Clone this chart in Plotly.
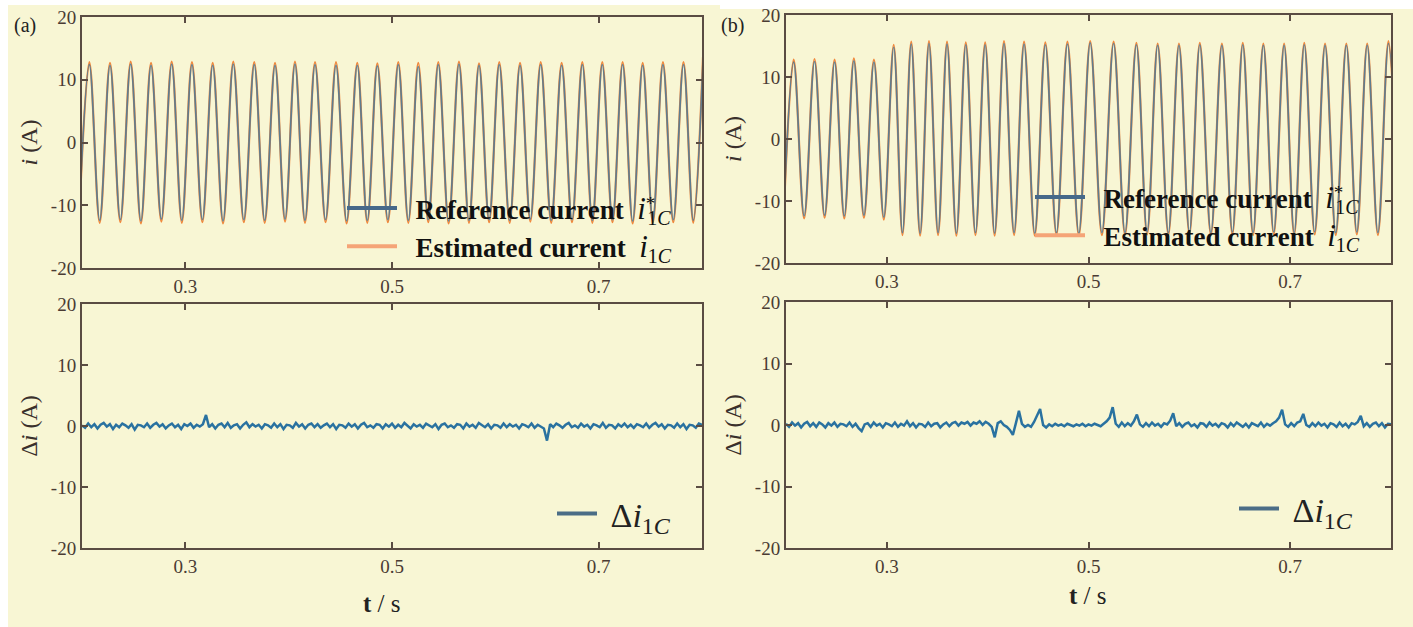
import numpy as np
import plotly.graph_objects as go

W, H = 1413, 627
SERIF = "Liberation Serif"
BG = "#F8F6D4"
AX = "#5a4c43"
TICK = "#4a3b33"

# ---------------- data ----------------
x_ticks = [0.3, 0.5, 0.7]
x_tick_text = ["0.3", "0.5", "0.7"]
y_ticks = [-20, -10, 0, 10, 20]
y_tick_text = ["-20", "-10", "0", "10", "20"]

# (a) phase current: times (s) of positive peaks and negative troughs
a_peak_t = [0.2071, 0.2271, 0.2471, 0.2668, 0.2868, 0.3064, 0.3265, 0.3464, 0.3667, 0.3868,
            0.4061, 0.4255, 0.4458, 0.4664, 0.4858, 0.5061, 0.5254, 0.5448, 0.5648, 0.5842,
            0.6038, 0.6239, 0.6439, 0.6642, 0.6842, 0.7035, 0.7232, 0.7426, 0.7622, 0.7821, 0.8010]
a_trough_t = [0.1971, 0.2171, 0.2371, 0.2570, 0.2768, 0.2966, 0.3165, 0.3365, 0.3566, 0.3768,
              0.3965, 0.4158, 0.4357, 0.4561, 0.4761, 0.4960, 0.5158, 0.5351, 0.5548, 0.5745,
              0.5940, 0.6139, 0.6339, 0.6541, 0.6742, 0.6939, 0.7134, 0.7329, 0.7524, 0.7722, 0.7916]
a_est_peak = [12.8, 12.7, 12.9, 12.7, 12.9, 12.8, 12.7, 12.9, 12.8, 12.7, 12.9, 12.8, 12.8, 12.7, 12.6, 12.8,
              12.7, 12.8, 12.9, 12.6, 12.8, 12.7, 12.8, 12.7, 12.8, 12.8, 12.8, 12.7, 12.8, 12.8, 13.6]
a_ref_peak = [12.4, 12.3, 12.5, 12.3, 12.5, 12.4, 12.3, 12.5, 12.4, 12.3, 12.5, 12.4, 12.3, 12.3, 12.2, 12.4,
              12.1, 12.4, 12.5, 12.3, 12.4, 12.3, 12.4, 12.3, 12.4, 12.4, 12.4, 12.3, 12.4, 12.4, 13.2]
a_est_trough = [-12.7, -12.8, -12.7, -12.9, -12.6, -12.8, -12.7, -12.9, -12.7, -12.8, -12.6, -12.8, -12.7,
                -12.9, -12.8, -12.7, -12.8, -12.7, -12.9, -12.8, -12.7, -12.8, -12.6, -12.8, -12.7, -12.8,
                -12.7, -12.9, -12.8, -12.7, -12.8]
a_ref_trough = [-12.3, -12.4, -12.3, -12.5, -12.2, -12.4, -12.3, -12.5, -12.3, -12.4, -12.2, -12.4, -12.3,
                -12.5, -12.4, -12.3, -12.4, -12.3, -12.5, -12.4, -12.3, -12.4, -12.2, -12.4, -12.3, -12.4,
                -12.3, -12.5, -12.4, -12.3, -12.4]

# (b) phase current (load step near 0.3 s)
b_peak_t = [0.2076, 0.2283, 0.2482, 0.2673, 0.2872, 0.3068, 0.3242, 0.3418, 0.3597, 0.3783,
            0.3975, 0.4162, 0.4361, 0.4572, 0.4791, 0.5017, 0.5249, 0.5475, 0.5686, 0.5897,
            0.6104, 0.6323, 0.6530, 0.6734, 0.6940, 0.7140, 0.7346, 0.7557, 0.7764, 0.7975]
b_trough_t = [0.1976, 0.2180, 0.2383, 0.2578, 0.2773, 0.2970, 0.3155, 0.3330, 0.3508, 0.3690,
              0.3879, 0.4069, 0.4262, 0.4467, 0.4682, 0.4904, 0.5133, 0.5362, 0.5581, 0.5792,
              0.6001, 0.6214, 0.6427, 0.6632, 0.6837, 0.7040, 0.7243, 0.7452, 0.7661, 0.7870, 0.8080]
b_est_peak = [12.8, 12.9, 12.8, 13.0, 12.8, 15.2, 15.7, 15.8, 15.7, 15.6, 15.6, 15.8, 15.7, 15.6, 15.7,
              15.8, 15.7, 15.5, 15.4, 15.4, 15.5, 15.4, 15.5, 15.4, 15.4, 15.5, 15.4, 15.4, 15.4, 15.8]
b_ref_peak = [12.4, 12.5, 12.4, 12.6, 12.4, 14.8, 15.3, 15.4, 15.3, 15.2, 15.2, 15.4, 15.3, 15.2, 15.3,
              15.5, 15.4, 15.2, 15.1, 15.1, 15.2, 15.1, 15.2, 15.1, 15.1, 15.2, 15.1, 15.1, 15.1, 15.4]
b_est_trough = [-12.7, -12.8, -12.7, -12.8, -12.7, -13.0, -15.5, -15.6, -15.5, -15.6, -15.5, -15.6, -15.5,
                -15.6, -15.5, -15.6, -15.5, -15.5, -15.4, -15.5, -15.4, -15.5, -15.4, -15.5, -15.4, -15.5,
                -15.4, -15.5, -15.4, -15.5, -15.4]
b_ref_trough = [-12.3, -12.4, -12.3, -12.4, -12.3, -12.6, -15.1, -15.2, -15.1, -15.2, -15.1, -15.2, -15.1,
                -15.2, -15.1, -15.2, -15.1, -15.1, -15.0, -15.1, -15.0, -15.1, -15.0, -15.1, -15.0, -15.1,
                -15.0, -15.1, -15.0, -15.1, -15.0]

# estimation error, sampled every 3 ms from 0.2 s to 0.8 s
a_delta = [0.1, -0.3, 0.4, -0.2, 0.3, -0.4, 0.2, 0.5, -0.1, 0.3, -0.5, 0.2, -0.2, 0.4, 0.1, -0.3, 0.3, -0.6, 0.2, 0.1,
           -0.2, 0.4, -0.3, 0.2, 0.5, -0.1, 0.3, -0.4, 0.1, 0.4, -0.2, 0.2, -0.5, 0.3, 0.0, 0.4, -0.3, 0.2, -0.1, 0.3,
           1.8, -0.2, 0.3, -0.4, 0.2, 0.4, -0.2, 0.5, -0.3, 0.1, 0.3, -0.4, 0.2, 0.6, -0.2, 0.3, -0.1, 0.2, -0.4, 0.3,
           0.1, -0.3, 0.4, -0.2, 0.3, -0.5, 0.2, 0.1, -0.3, 0.5, -0.1, 0.3, -0.4, 0.2, 0.4, -0.2, 0.3, -0.3, 0.1, 0.4,
           -0.2, 0.3, -0.5, 0.2, 0.1, -0.3, 0.4, -0.1, 0.3, -0.4, 0.2, 0.5, -0.2, 0.1, -0.3, 0.3, 0.2, -0.4, 0.3, -0.1,
           0.4, -0.3, 0.2, -0.2, 0.5, 0.1, -0.4, 0.3, -0.1, 0.2, -0.3, 0.4, 0.1, -0.2, 0.3, -0.5, 0.2, 0.4, -0.2, 0.1,
           -0.3, 0.3, 0.2, -0.4, 0.4, -0.1, 0.2, -0.3, 0.5, 0.1, -0.2, 0.3, -0.4, 0.2, 0.1, -0.3, 0.4, -0.2, 0.3, -0.1,
           0.2, -0.4, 0.3, 0.1, -0.2, 0.4, -0.3, 0.2, -0.1, -0.4, -2.4, 0.3, -0.2, 0.4, 0.1, -0.3, 0.2, 0.5, -0.2, 0.1,
           -0.3, 0.4, -0.1, 0.2, -0.4, 0.3, 0.1, -0.2, 0.5, -0.3, 0.2, 0.1, -0.4, 0.3, -0.1, 0.4, -0.2, 0.2, -0.3, 0.3,
           0.1, -0.2, 0.4, -0.3, 0.2, 0.5, -0.1, 0.3, -0.4, 0.2, 0.1, -0.3, 0.4, -0.2, 0.3, -0.5, 0.2, 0.1, -0.3, 0.4, 0.2]
b_delta = [0.2, -0.3, 0.4, -0.1, 0.3, -0.4, 0.2, 0.5, -0.2, 0.3, -0.3, 0.4, 0.1, -0.4, 0.3, -0.1, 0.4, -0.3, 0.2, 0.1,
           -0.2, 0.4, -0.3, 0.2, -0.5, -1.0, 0.1, 0.3, -0.3, 0.4, -0.1, 0.2, -0.4, 0.3, 0.1, -0.2, 0.4, -0.3, 0.2, -0.1,
           0.6, -0.2, 0.3, -0.4, 0.2, 0.1, -0.3, 0.4, -0.2, 0.2, 0.3, -0.4, 0.1, 0.4, -0.2, 0.3, 0.5, -0.1, 0.4, 0.2,
           0.5, -0.1, 0.4, 0.2, 0.6, 0.0, 0.5, 0.2, -0.3, -2.0, 0.3, 0.6, 0.0, -0.3, -0.8, -1.6, 0.3, 2.3, 0.2, -0.3,
           0.0, -0.3, 0.5, 1.5, 2.6, 0.0, -0.4, 0.1, -0.2, 0.2, -0.1, 0.1, -0.2, 0.2, 0.0, -0.2, 0.1, -0.1, 0.2, -0.2,
           0.1, -0.1, 0.2, 0.0, -0.2, 0.2, 0.6, 1.2, 2.9, 0.2, -0.3, 0.4, -0.2, 0.3, -0.1, 0.6, 1.7, 0.1, -0.3, 0.3,
           -0.2, 0.4, -0.1, 0.2, -0.3, 0.3, 0.1, 0.7, 1.9, -0.2, 0.3, -0.3, 0.2, 0.4, -0.2, 0.1, -0.4, 0.3, 0.2, -0.3,
           0.4, -0.1, 0.2, -0.3, 0.3, 0.1, -0.4, 0.3, -0.2, 0.4, 0.0, -0.3, 0.2, -0.4, 0.3, 0.1, -0.2, 0.4, -0.3, 0.2,
           -0.1, 0.3, 0.6, 1.2, 2.5, 0.1, -0.3, 0.3, -0.2, 0.4, 0.6, 1.8, 0.0, -0.3, 0.3, -0.2, 0.4, -0.1, 0.2, -0.4,
           0.3, 0.1, -0.3, 0.4, -0.2, 0.2, -0.4, 0.3, 0.1, 0.5, 1.5, -0.2, 0.3, -0.3, 0.2, 0.4, -0.2, 0.3, -0.4, 0.2, 0.1]
t_delta = np.round(np.linspace(0.2, 0.8, len(a_delta)), 4)

# ---------------- helpers ----------------
def px(x):
    return x / W


def py(y):
    return 1 - y / H


def merge(peak_t, peak_v, trough_t, trough_v):
    pts = sorted(zip(list(peak_t) + list(trough_t), list(peak_v) + list(trough_v)))
    return [p[0] for p in pts], [p[1] for p in pts]


def sp(text, size, bold=False, italic=False, shift=None, spacing=None):
    st = "font-size:%dpx" % size
    if bold:
        st += ";font-weight:bold"
    if italic:
        st += ";font-style:italic"
    if shift:
        st += ";baseline-shift:%s" % shift
    if spacing is not None:
        st += ";letter-spacing:%dpx" % spacing
    return '<span style="%s">%s</span>' % (st, text)


REF_C = "#3d7aa3"
EST_C = "#f0883c"
LEG_REF = "#46698a"
LEG_EST = "#f5a477"
DELTA_C = "#2a72a0"
LEG_DELTA = "#4b6d86"

LEG_FS = 27
sub_1c = sp("1", 20, shift="-30%") + sp("C", 20, italic=True, shift="-30%")
name_ref = (sp("&nbsp;&nbsp;Reference current&nbsp;&nbsp;", LEG_FS, bold=True) + sp("i", 31, italic=True)
            + sp("*", 19, shift="45%", spacing=-8) + sub_1c)
name_est = (sp("&nbsp;&nbsp;Estimated current&nbsp;&nbsp;", LEG_FS, bold=True) + sp("i", 31, italic=True)
            + sub_1c)
name_delta = (sp("&nbsp;Δ", 34) + sp("i", 34, italic=True) + sp("1", 24, shift="-30%")
              + sp("C", 24, italic=True, shift="-30%"))

fig = go.Figure()

panels = [
    ("x", "y", a_peak_t, a_trough_t, a_ref_peak, a_ref_trough, a_est_peak, a_est_trough, "legend"),
    ("x3", "y3", b_peak_t, b_trough_t, b_ref_peak, b_ref_trough, b_est_peak, b_est_trough, "legend3"),
]
for xa, ya, pt, tt, rp, rt, ep, et, lg in panels:
    tx, ve = merge(pt, ep, tt, et)
    _, vr = merge(pt, rp, tt, rt)
    fig.add_trace(go.Scatter(x=tx, y=ve, xaxis=xa, yaxis=ya, mode="lines",
                             line=dict(color=EST_C, width=2.2, shape="spline"),
                             showlegend=False, hoverinfo="skip"))
    fig.add_trace(go.Scatter(x=tx, y=vr, xaxis=xa, yaxis=ya, mode="lines",
                             line=dict(color=REF_C, width=1.7, shape="spline"),
                             opacity=0.8, showlegend=False, hoverinfo="skip"))
    fig.add_trace(go.Scatter(x=[None], y=[None], xaxis=xa, yaxis=ya, mode="lines",
                             line=dict(color=LEG_REF, width=4), name=name_ref, legend=lg))
    fig.add_trace(go.Scatter(x=[None], y=[None], xaxis=xa, yaxis=ya, mode="lines",
                             line=dict(color=LEG_EST, width=4), name=name_est, legend=lg))

for xa, ya, vals, lg in [("x2", "y2", a_delta, "legend2"), ("x4", "y4", b_delta, "legend4")]:
    fig.add_trace(go.Scatter(x=t_delta, y=vals, xaxis=xa, yaxis=ya, mode="lines",
                             line=dict(color=DELTA_C, width=2.5),
                             showlegend=False, hoverinfo="skip"))
    fig.add_trace(go.Scatter(x=[None], y=[None], xaxis=xa, yaxis=ya, mode="lines",
                             line=dict(color=LEG_DELTA, width=4), name=name_delta, legend=lg))


def xaxis(domain, anchor):
    return dict(domain=domain, anchor=anchor, range=[0.2, 0.8], tickvals=x_ticks, ticktext=x_tick_text,
                ticks="inside", ticklen=6, tickwidth=1.5, tickcolor=AX, showline=True, linecolor=AX, linewidth=2,
                mirror="ticks", showgrid=False, zeroline=False, automargin=False,
                tickfont=dict(family=SERIF, size=19, color=TICK))


def yaxis(domain, anchor, title):
    return dict(domain=domain, anchor=anchor, range=[-20, 20], tickvals=y_ticks, ticktext=y_tick_text,
                ticks="inside", ticklen=6, tickwidth=1.5, tickcolor=AX, showline=True, linecolor=AX, linewidth=2,
                mirror="ticks", showgrid=False, zeroline=False, automargin=False,
                tickfont=dict(family=SERIF, size=19, color=TICK),
                title=dict(text=title, font=dict(family=SERIF, size=24, color="#3a302c"), standoff=6))


y_title = sp("i", 24, italic=True) + sp(" (A)", 24)
dy_title = sp("Δ", 24) + sp("i", 24, italic=True) + sp(" (A)", 24)
xa_a = [px(82), px(702)]
xa_b = [px(786), px(1391)]
fig.update_layout(
    xaxis=xaxis(xa_a, "y"), yaxis=yaxis([py(268), py(17)], "x", y_title),
    xaxis2=xaxis(xa_a, "y2"), yaxis2=yaxis([py(548), py(304)], "x2", dy_title),
    xaxis3=xaxis(xa_b, "y3"), yaxis3=yaxis([py(263), py(15)], "x3", y_title),
    xaxis4=xaxis(xa_b, "y4"), yaxis4=yaxis([py(548), py(302)], "x4", dy_title),
)

leg_common = dict(xanchor="left", yanchor="top", bgcolor="rgba(0,0,0,0)", borderwidth=0, tracegroupgap=0)
fig.update_layout(
    legend=dict(x=px(342), y=py(184), font=dict(family=SERIF, size=LEG_FS, color="#111"), itemwidth=50,
                **leg_common),
    legend3=dict(x=px(1030), y=py(173), font=dict(family=SERIF, size=LEG_FS, color="#111"), itemwidth=50,
                 **leg_common),
    legend2=dict(x=px(552), y=py(485), font=dict(family=SERIF, size=34, color="#222"), itemwidth=40,
                 **leg_common),
    legend4=dict(x=px(1234), y=py(480), font=dict(family=SERIF, size=34, color="#222"), itemwidth=40,
                 **leg_common),
)

# panel backgrounds (pale yellow sheets)
fig.add_shape(type="rect", xref="paper", yref="paper", x0=px(8), x1=px(720), y0=0, y1=py(5),
              fillcolor=BG, line_width=0, layer="below")
fig.add_shape(type="rect", xref="paper", yref="paper", x0=px(720), x1=1, y0=0, y1=py(9),
              fillcolor=BG, line_width=0, layer="below")

ann_font = dict(family=SERIF, size=20, color="#222")
fig.add_annotation(x=px(12), y=py(25), xref="paper", yref="paper", text="(a)", showarrow=False,
                   xanchor="left", yanchor="middle", font=ann_font)
fig.add_annotation(x=px(719), y=py(25), xref="paper", yref="paper", text="(b)", showarrow=False,
                   xanchor="left", yanchor="middle", font=ann_font)
tfont = dict(family=SERIF, size=25, color="#222")
t_text = sp("t", 25, bold=True) + sp(" / s", 25)
fig.add_annotation(x=px(382), y=py(603), xref="paper", yref="paper", text=t_text, showarrow=False,
                   xanchor="center", yanchor="middle", font=tfont)
fig.add_annotation(x=px(1088), y=py(595), xref="paper", yref="paper", text=t_text, showarrow=False,
                   xanchor="center", yanchor="middle", font=tfont)

fig.update_layout(width=W, height=H, margin=dict(l=0, r=0, t=0, b=0, pad=0, autoexpand=False),
                  paper_bgcolor="white", plot_bgcolor="rgba(0,0,0,0)", showlegend=True)

fig.write_html("out.html")
